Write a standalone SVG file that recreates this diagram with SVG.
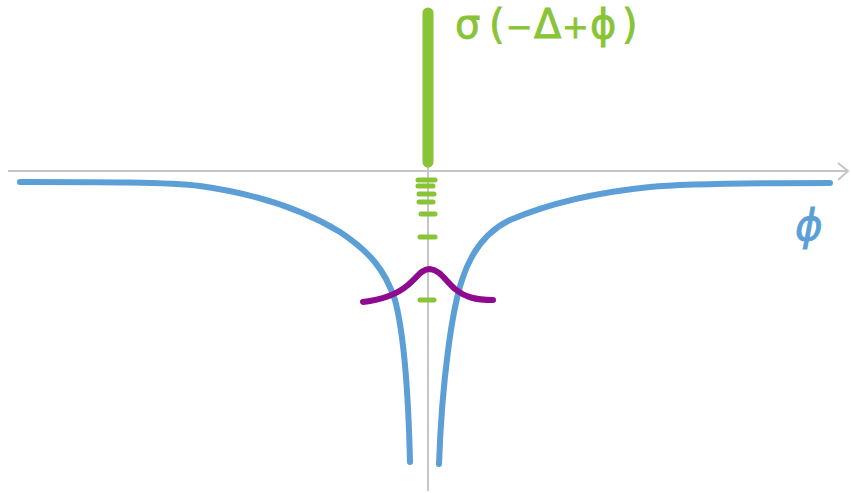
<svg xmlns="http://www.w3.org/2000/svg" width="851" height="493" viewBox="0 0 851 493">
<style>
.axis{stroke:#c6c6c6;stroke-width:2;fill:none}
.blue{stroke:#5b9fd6;stroke-width:6;fill:none;stroke-linecap:round;stroke-linejoin:round}
.purple{stroke:#8e0a8e;stroke-width:6;fill:none;stroke-linecap:round;stroke-linejoin:round}
.green{stroke:#88c435;stroke-linecap:round;fill:none}
.dash{stroke-width:5}
.lbl{font-family:"DejaVu Sans","Liberation Sans",sans-serif;fill:#88c435}
.op{font-size:32px}
</style>
<rect width="851" height="493" fill="#ffffff"/>
<g id="axes">
<line class="axis" x1="8" y1="171" x2="847" y2="171"/>
<line class="axis" x1="428" y1="10" x2="428" y2="491"/>
<polyline class="axis" points="838,163 848,171 838,180"/>
</g>
<g id="curves">
<path class="blue" d="M20,182 C100,182 170,182 200,186 C250,193 300,208 340,232 C370,252 385,270 395,300 C403,330 408,380 410,462"/>
<path class="blue" d="M830,183 C760,183 680,184 650,187 C600,192 550,203 510,220 C485,232 470,255 462,280 C452,310 442,380 439,464"/>
<path class="purple" d="M363,302 C380,300 395,296 408,285 C418,276 422,269 430,269 C440,270 445,280 455,289 C465,297 475,300 493,300"/>
</g>
<g id="delta-spike">
<line class="green" x1="428" y1="13" x2="428" y2="162" stroke-width="11"/>
<g class="green dash">
<line x1="418" y1="180" x2="435" y2="180"/>
<line x1="418" y1="186" x2="433" y2="186"/>
<line x1="419" y1="194" x2="434" y2="194"/>
<line x1="419" y1="202" x2="433" y2="202"/>
<line x1="421" y1="214" x2="435" y2="214"/>
<line x1="420" y1="237" x2="435" y2="237"/>
<line x1="420" y1="300" x2="434" y2="300"/>
</g>
</g>
<g id="labels">
<text class="lbl" y="38" font-size="40" stroke="#88c435" stroke-width="0.8"><tspan x="455">σ</tspan><tspan x="489">(</tspan><tspan x="506" class="op">−</tspan><tspan x="534">Δ</tspan><tspan x="562" class="op">+</tspan><tspan x="590">ϕ</tspan><tspan x="622">)</tspan></text>
<text x="795" y="240" font-family="DejaVu Sans, sans-serif" font-style="italic" font-size="42" fill="#5b9fd6" stroke="#5b9fd6" stroke-width="0.8">ϕ</text>
</g>
</svg>
